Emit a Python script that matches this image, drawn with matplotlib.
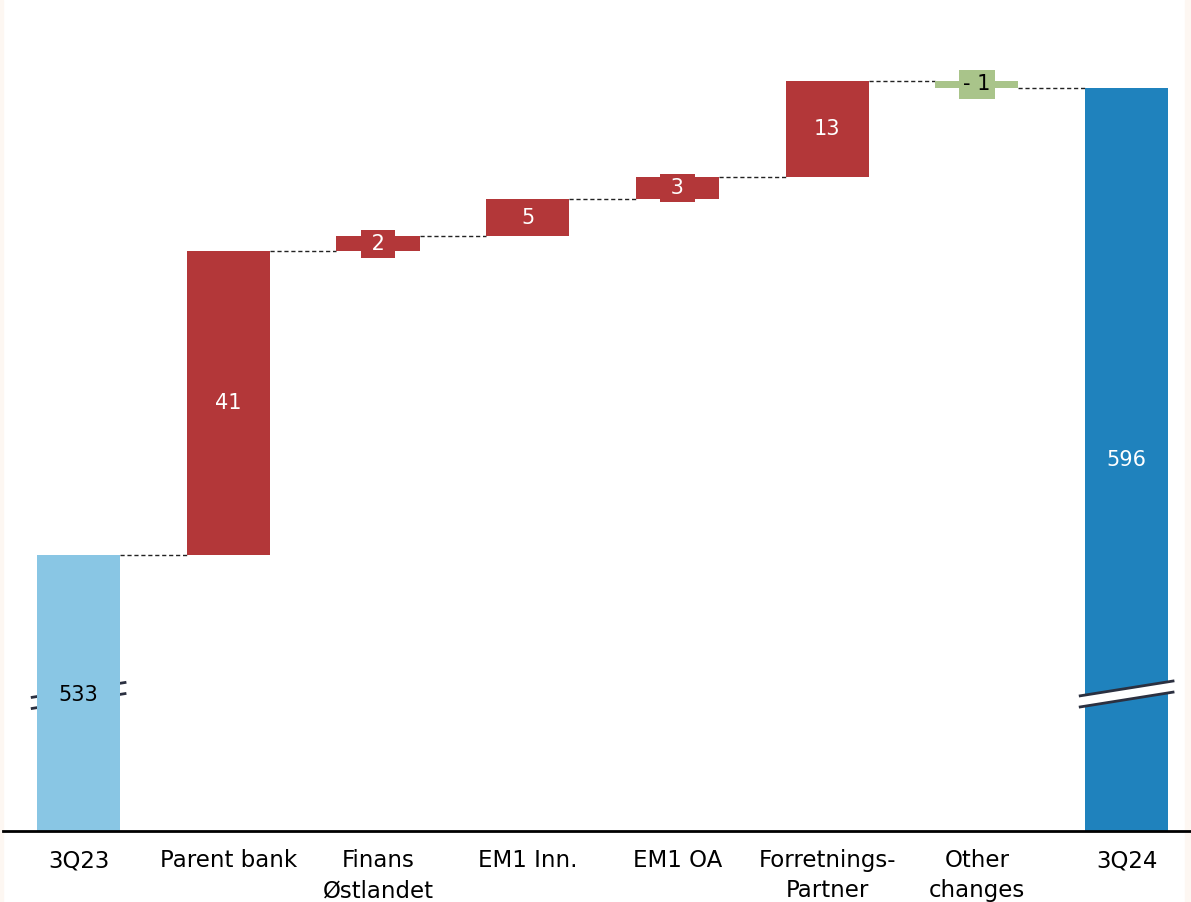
import matplotlib.pyplot as plt
import numpy as np
from matplotlib.patches import Rectangle

plt.rcParams['font.family'] = ['DejaVu Sans']

categories = ['3Q23', 'Parent bank', 'Finans\nØstlandet', 'EM1 Inn.', 'EM1 OA',
              'Forretnings-\nPartner', 'Other\nchanges', '3Q24']
start_value = 533
changes = [41, 2, 5, 3, 13, -1]
end_value = 596
labels = ['533', '41', ' 2 ', '5', ' 3 ', '13', '- 1', '596']

c_start = '#89C6E4'
c_up = '#B33739'
c_down = '#A9C48A'
c_end = '#1F82BD'

fig = plt.figure(figsize=(11.91, 9.02), dpi=100)
# thin beige edges of the original slide
fig.patches.append(Rectangle((0, 0), 3 / 1191, 1, transform=fig.transFigure, color='#FDF7F2', zorder=-1))
fig.patches.append(Rectangle((1185 / 1191, 0), 6 / 1191, 1, transform=fig.transFigure, color='#FDF7F2', zorder=-1))

ax = fig.add_axes([3 / 1191, 1 - 831 / 902, 1 - 3 / 1191, 831 / 902])
ax.patch.set_alpha(0)

x = np.arange(len(categories))
w = 0.555
ymin, ymax = 495.7, 607.9

levels = [start_value]
for c in changes:
    levels.append(levels[-1] + c)
bottoms = [ymin] + [min(levels[i], levels[i + 1]) for i in range(len(changes))] + [ymin]
heights = [start_value - ymin] + [abs(c) for c in changes] + [end_value - ymin]
colors = [c_start] + [c_up if c > 0 else c_down for c in changes] + [c_end]

ax.bar(x, heights, bottom=bottoms, width=w, color=colors, zorder=3)

# connectors
for i in range(len(x) - 1):
    lvl = levels[i] if i < len(levels) else end_value
    ax.plot([x[i] + w / 2, x[i + 1] - w / 2], [lvl, lvl], ls=(0, (3, 2)),
            color='#222222', lw=1, zorder=2)


# axis break marks
def brk(xc, y0, z):
    dx = 0.31
    dy = 1.0
    gap = 1.5
    xs = [xc - dx, xc + dx, xc + dx, xc - dx]
    ys = [y0 - dy + gap / 2, y0 + dy + gap / 2, y0 + dy - gap / 2, y0 - dy - gap / 2]
    ax.fill(xs, ys, color='white', zorder=z, lw=0)
    ax.plot([xc - dx, xc + dx], [y0 - dy + gap / 2, y0 + dy + gap / 2], color='#2b3040', lw=2, zorder=z)
    ax.plot([xc - dx, xc + dx], [y0 - dy - gap / 2, y0 + dy - gap / 2], color='#2b3040', lw=2, zorder=z)


brk(x[0], 514, 1)
brk(x[-1], 514.2, 4)

# value labels
for i in range(len(x)):
    txtcol = 'black' if colors[i] in (c_start, c_down) else 'white'
    yl = 514 if i == 0 else bottoms[i] + heights[i] / 2
    kw = {}
    if 0 < i < len(x) - 1 and abs(changes[i - 1]) <= 3:
        kw['bbox'] = dict(boxstyle='square,pad=0.2', fc=colors[i], ec='none')
    ax.text(x[i], yl, labels[i], ha='center', va='center', fontsize=15,
            color=txtcol, zorder=5, **kw)

ax.set_xlim(-0.505, 7.43)
ax.set_ylim(ymin, ymax)
ax.set_xticks(x)
ax.set_xticklabels(categories, fontsize=16.5, linespacing=1.4)
ax.tick_params(axis='x', length=0, pad=13)
ax.set_yticks([])
for s in ['left', 'right', 'top']:
    ax.spines[s].set_visible(False)
ax.spines['bottom'].set_linewidth(2)
ax.spines['bottom'].set_color('black')
ax.spines['bottom'].set_zorder(6)

plt.savefig('out.png', dpi=100)
